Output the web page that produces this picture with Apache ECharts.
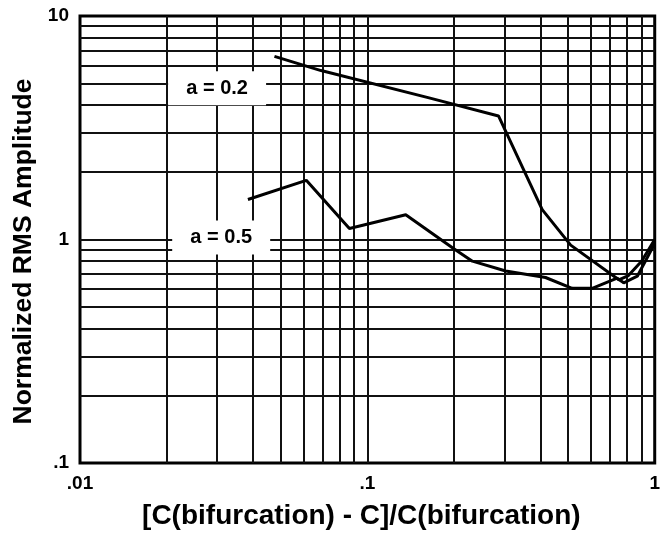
<!DOCTYPE html>
<html><head><meta charset="utf-8">
<script src="https://cdn.jsdelivr.net/npm/echarts@6/dist/echarts.min.js"></script>
<style>html,body{margin:0;padding:0;background:#fff}#c{width:663px;height:535px}</style>
</head><body><div id="c"></div>
<script>
// Curve a = 0.2
const xA02 = [0.0475, 0.069, 0.164, 0.286, 0.406, 0.51, 0.75, 0.81, 0.90, 1.0];
const yA02 = [6.6, 5.7, 4.3, 3.57, 1.36, 0.944, 0.66, 0.69, 0.80, 1.0];
// Curve a = 0.5
const xA05 = [0.0384, 0.0613, 0.0866, 0.136, 0.2, 0.232, 0.303, 0.417, 0.516, 0.606, 0.74, 0.78, 0.87, 1.0];
const yA05 = [1.51, 1.84, 1.12, 1.29, 0.91, 0.80, 0.723, 0.676, 0.605, 0.605, 0.671, 0.64, 0.685, 0.96];
// Curve labels and their anchor values
const curveLabels = ['a = 0.2', 'a = 0.5'];
const labelX = [0.0300, 0.0310];
const labelY = [4.75, 1.02];
// Grid line values (log decades with minor lines)
const xGridValues = [0.02,0.03,0.04,0.05,0.06,0.07,0.08,0.09,0.1,0.2,0.3,0.4,0.5,0.6,0.7,0.8,0.9];
const yGridValues = [0.2,0.3,0.4,0.5,0.6,0.7,0.8,0.9,1,2,3,4,5,6,7,8,9];
// Tick labels
const xTickLabels = ['.01', '.1', '1'];
const yTickLabels = ['.1', '1', '10'];
const xTitle = '[C(bifurcation) - C]/C(bifurcation)';
const yTitle = 'Normalized RMS Amplitude';

const FONT = "'Liberation Sans', Arial, Helvetica, sans-serif";
function zip(a, b) { return a.map((v, i) => [v, b[i]]); }
function decadeIndex(v, base) { return Math.round(Math.log10(v) - base); }

const chart = echarts.init(document.getElementById('c'), null, {renderer: 'canvas'});
chart.setOption({
  animation: false,
  backgroundColor: '#fff',
  grid: {left: 80, right: 7, top: 16, bottom: 69, show: true, borderColor: '#000', borderWidth: 3, backgroundColor: 'transparent'},
  xAxis: {
    type: 'log', logBase: 10, min: 0.01, max: 1,
    name: xTitle, nameLocation: 'middle', nameGap: 39,
    nameTextStyle: {fontFamily: FONT, fontWeight: 'bold', fontSize: 28, color: '#000', padding: [0, 12, 0, 0]},
    axisLine: {show: false}, axisTick: {show: false}, splitLine: {show: false},
    axisLabel: {fontFamily: FONT, fontWeight: 'bold', fontSize: 19, color: '#000', margin: 11,
      formatter: v => xTickLabels[decadeIndex(v, -2)]}
  },
  yAxis: {
    type: 'log', logBase: 10, min: 0.1, max: 10,
    name: yTitle, nameLocation: 'middle', nameGap: 37,
    nameTextStyle: {fontFamily: FONT, fontWeight: 'bold', fontSize: 26.5, color: '#000', padding: [0, 24, 0, 0]},
    axisLine: {show: false}, axisTick: {show: false}, splitLine: {show: false},
    axisLabel: {fontFamily: FONT, fontWeight: 'bold', fontSize: 19, color: '#000', margin: 11,
      formatter: v => yTickLabels[decadeIndex(v, -1)]}
  },
  series: [
    {
      type: 'line', z: 1, silent: true, symbol: 'none', data: [[0.01, 0.1]],
      lineStyle: {width: 0},
      markLine: {
        silent: true, symbol: ['none', 'none'], animation: false,
        label: {show: false},
        lineStyle: {color: '#111', width: 2, type: 'solid', opacity: 1},
        emphasis: {disabled: true},
        data: xGridValues.map(v => ({xAxis: v})).concat(yGridValues.map(v => ({yAxis: v})))
      }
    },
    {
      type: 'scatter', z: 8, silent: true, symbol: 'rect', symbolSize: 1,
      itemStyle: {color: '#fff', opacity: 1},
      emphasis: {disabled: true},
      data: curveLabels.map((t, i) => ({name: t, value: [labelX[i], labelY[i]]})),
      label: {
        show: true, position: 'inside', formatter: p => p.name, opacity: 1,
        width: 98, height: 34, lineHeight: 34, align: 'center', verticalAlign: 'middle',
        backgroundColor: '#fff', fontFamily: FONT, fontWeight: 'bold', fontSize: 20, color: '#000'
      }
    },
    {
      name: 'a = 0.2', type: 'line', z: 10, symbol: 'none', data: zip(xA02, yA02),
      lineStyle: {color: '#000', width: 3}
    },
    {
      name: 'a = 0.5', type: 'line', z: 10, symbol: 'none', data: zip(xA05, yA05),
      lineStyle: {color: '#000', width: 3}
    }
  ]
});
</script>
</body></html>
